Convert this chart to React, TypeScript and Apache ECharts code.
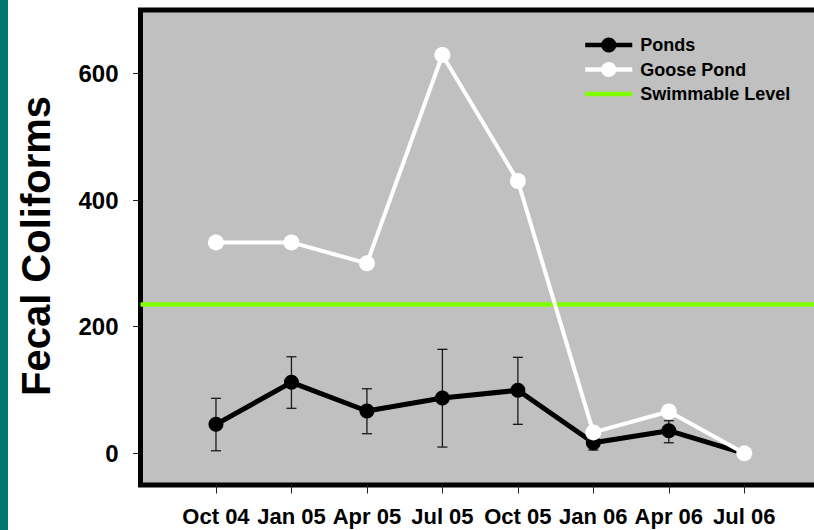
import React, { useEffect, useRef } from "react";
import * as echarts from "echarts";

const categories = ["Oct 04", "Jan 05", "Apr 05", "Jul 05", "Oct 05", "Jan 06", "Apr 06", "Jul 06"];
const pondsMean = [45.8, 112.1, 66.8, 87.3, 99.5, 16.7, 35.7, 0];
const pondsErrLow = [4.1, 71.1, 31.0, 9.9, 45.8, 5.2, 16.7, 0];
const pondsErrHigh = [86.8, 152.5, 102.0, 164.2, 151.6, 26.0, 51.5, 0];
const goosePond = [333, 333, 300, 629, 430, 33, 66, 0];
const swimmableLevel = 235;
const yTicks = [0, 200, 400, 600];

const FONT = 'Arial, "Liberation Sans", Helvetica, sans-serif';

export default function App() {
  const ref = useRef<HTMLDivElement>(null);
  useEffect(() => {
    if (!ref.current) return;
    const chart = echarts.init(ref.current, null, { renderer: "svg" });
    const xIdx = categories.map((_, i) => i);
    const option: any = {
      animation: false,
      backgroundColor: "#ffffff",
      textStyle: { fontFamily: FONT },
      grid: {
        show: true,
        left: 140.5,
        top: 10,
        bottom: 45,
        width: 717,
        outerBoundsMode: "none",
        containLabel: false,
        backgroundColor: "#C0C0C0",
        borderColor: "#000000",
        borderWidth: 5,
      },
      graphic: [
        { type: "rect", left: 0, top: 0, shape: { x: 0, y: 0, width: 8, height: 530 }, style: { fill: "#007770" }, z: 100 },
        {
          type: "text",
          x: 36,
          y: 246,
          rotation: Math.PI / 2,
          style: {
            text: "Fecal Coliforms",
            font: `bold 40px ${FONT}`,
            fill: "#000",
            textAlign: "center",
            textVerticalAlign: "middle",
          },
        },
      ],
      legend: {
        left: 583,
        top: 35.5,
        padding: 0,
        orient: "vertical",
        itemWidth: 47,
        itemHeight: 19,
        itemGap: 5.5,
        data: [
          { name: "Ponds" },
          { name: "Goose Pond" },
          { name: "Swimmable Level", icon: "path://M0 0H47V4.5H0Z" },
        ],
        lineStyle: { width: 4.5 },
        textStyle: { fontFamily: FONT, fontSize: 18, fontWeight: "bold", color: "#000", lineHeight: 19, padding: [0, 0, 0, 3] },
      },
      xAxis: {
        type: "value",
        min: -1,
        max: 8.5,
        axisLine: { show: false, onZero: false },
        splitLine: { show: false },
        axisTick: { show: true, length: 8.5, customValues: xIdx, lineStyle: { color: "#222", width: 1 } },
        axisLabel: {
          customValues: xIdx,
          formatter: (v: number) => categories[Math.round(v)] ?? "",
          fontFamily: FONT,
          fontSize: 22,
          fontWeight: "bold",
          color: "#000",
          margin: 20,
        },
      },
      yAxis: {
        type: "value",
        min: -50,
        max: 700,
        axisLine: { show: false, onZero: false },
        splitLine: { show: false },
        axisTick: { show: true, length: 7.5, customValues: yTicks, lineStyle: { color: "#222", width: 1 } },
        axisLabel: {
          customValues: yTicks,
          fontFamily: FONT,
          fontSize: 24,
          fontWeight: "bold",
          color: "#000",
          margin: 22,
        },
      },
      series: [
        {
          name: "Swimmable Level",
          type: "line",
          data: [[-1, swimmableLevel], [8.5, swimmableLevel]],
          symbol: "none",
          lineStyle: { color: "#80FF00", width: 4.5 },
          itemStyle: { color: "#80FF00" },
          z: 2,
        },
        {
          name: "Ponds error",
          type: "custom",
          data: xIdx.map((i) => [i, pondsErrLow[i], pondsErrHigh[i]]),
          z: 3,
          renderItem: (params: any, api: any) => {
            const x = api.value(0);
            const lo = api.coord([x, api.value(1)]);
            const hi = api.coord([x, api.value(2)]);
            const cap = 5;
            const style = { stroke: "#1a1a1a", lineWidth: 1.3 };
            return {
              type: "group",
              children: [
                { type: "line", shape: { x1: lo[0], y1: lo[1], x2: hi[0], y2: hi[1] }, style },
                { type: "line", shape: { x1: lo[0] - cap, y1: lo[1], x2: lo[0] + cap, y2: lo[1] }, style },
                { type: "line", shape: { x1: hi[0] - cap, y1: hi[1], x2: hi[0] + cap, y2: hi[1] }, style },
              ],
            };
          },
        },
        {
          name: "Ponds",
          type: "line",
          data: xIdx.map((i) => [i, pondsMean[i]]),
          symbol: "circle",
          symbolSize: 15,
          lineStyle: { color: "#000", width: 5 },
          itemStyle: { color: "#000" },
          z: 4,
        },
        {
          name: "Goose Pond",
          type: "line",
          data: xIdx.map((i) => [i, goosePond[i]]),
          symbol: "circle",
          symbolSize: 16,
          lineStyle: { color: "#fff", width: 4 },
          itemStyle: { color: "#fff" },
          z: 5,
        },
      ],
    };
    chart.setOption(option);
    return () => chart.dispose();
  }, []);
  return <div ref={ref} style={{ position: "fixed", left: 0, top: 0, width: 814, height: 530 }} />;
}
